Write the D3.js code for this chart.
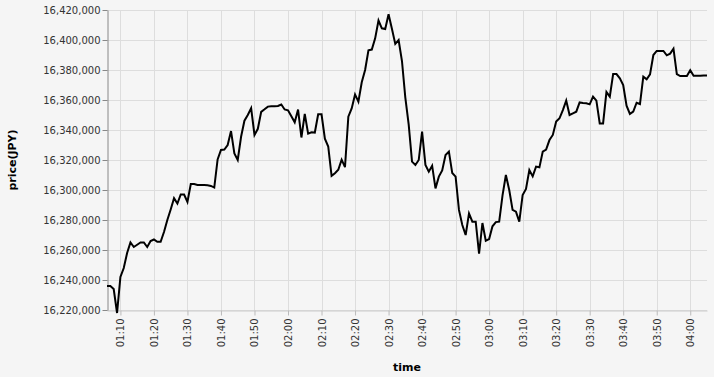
<!DOCTYPE html>
<html>
<head>
<meta charset="utf-8">
<script src="https://cdn.jsdelivr.net/npm/d3@7"></script>
<style>
  html, body { margin: 0; padding: 0; background: #f5f5f5; }
  svg { display: block; }
  text { font-family: "DejaVu Sans", sans-serif; }
</style>
</head>
<body>
<script>
// ---- data ----
const times = [
  "01:06","01:07","01:08","01:09","01:10","01:11","01:12","01:13","01:14","01:15","01:16","01:17","01:18","01:19",
  "01:20","01:21","01:22","01:23","01:24","01:25","01:26","01:27","01:28","01:29",
  "01:30","01:31","01:32","01:33","01:34","01:35","01:36","01:37","01:38","01:39",
  "01:40","01:41","01:42","01:43","01:44","01:45","01:46","01:47","01:48","01:49",
  "01:50","01:51","01:52","01:53","01:54","01:55","01:56","01:57","01:58","01:59",
  "02:00","02:01","02:02","02:03","02:04","02:05","02:06","02:07","02:08","02:09",
  "02:10","02:11","02:12","02:13","02:14","02:15","02:16","02:17","02:18","02:19",
  "02:20","02:21","02:22","02:23","02:24","02:25","02:26","02:27","02:28","02:29",
  "02:30","02:31","02:32","02:33","02:34","02:35","02:36","02:37","02:38","02:39",
  "02:40","02:41","02:42","02:43","02:44","02:45","02:46","02:47","02:48","02:49",
  "02:50","02:51","02:52","02:53","02:54","02:55","02:56","02:57","02:58","02:59",
  "03:00","03:01","03:02","03:03","03:04","03:05","03:06","03:07","03:08","03:09",
  "03:10","03:11","03:12","03:13","03:14","03:15","03:16","03:17","03:18","03:19",
  "03:20","03:21","03:22","03:23","03:24","03:25","03:26","03:27","03:28","03:29",
  "03:30","03:31","03:32","03:33","03:34","03:35","03:36","03:37","03:38","03:39",
  "03:40","03:41","03:42","03:43","03:44","03:45","03:46","03:47","03:48","03:49",
  "03:50","03:51","03:52","03:53","03:54","03:55","03:56","03:57","03:58","03:59",
  "04:00","04:01","04:02","04:03","04:04","04:05"
];
const prices = [
  16236000,16236000,16234000,16218000,16242000,16248000,16258000,16265000,16262000,16263500,16265000,16265000,16262000,16266000,
  16267000,16265500,16265500,16272000,16280000,16287000,16294500,16291000,16297000,16297000,
  16292000,16304000,16304000,16303300,16303300,16303300,16303100,16302700,16301600,16320400,
  16326700,16327000,16330000,16339300,16324400,16320000,16335500,16346200,16350000,16354500,
  16336700,16340800,16352100,16353800,16355600,16355800,16355800,16356000,16357000,16353700,
  16353100,16349100,16345100,16353600,16335000,16350700,16337600,16338500,16338300,16350500,
  16350500,16334200,16329000,16309400,16311200,16313500,16320200,16315200,16348900,16354400,
  16363700,16358900,16371800,16380000,16393100,16393600,16401100,16413000,16407800,16407300,
  16417200,16407500,16397400,16400000,16386000,16361600,16343800,16318900,16316700,16320000,
  16338900,16316700,16312200,16316200,16301100,16308900,16313100,16323300,16325600,16311300,
  16308900,16286700,16276700,16270000,16284400,16278900,16278900,16257500,16278000,16266200,
  16267300,16275800,16278600,16278900,16296400,16310000,16300000,16286700,16285600,16278900,
  16296700,16300700,16313300,16309100,16315600,16315100,16325600,16326900,16333300,16336700,
  16345600,16347800,16353300,16359600,16350000,16351100,16352200,16358400,16358000,16357800,
  16357100,16362200,16359600,16344400,16344400,16365300,16362200,16377300,16377300,16374400,
  16370000,16356200,16350700,16352200,16358200,16357300,16375600,16373800,16377100,16390000,
  16392700,16392700,16392700,16389800,16390900,16394200,16377300,16376000,16376000,16376000,
  16379800,16376200,16376200,16376200,16376400,16376400
];
const yTicks = [16220000,16240000,16260000,16280000,16300000,16320000,16340000,16360000,16380000,16400000,16420000];
const xTickLabels = ["01:10","01:20","01:30","01:40","01:50","02:00","02:10","02:20","02:30","02:40","02:50",
                     "03:00","03:10","03:20","03:30","03:40","03:50","04:00"];
const yTitle = "price(JPY)";
const xTitle = "time";

// ---- chart ----
(function () {
const W = 714, H = 377;
const mL = 107, mR = 707, mT = 10, mB = 310;
const parse = d3.utcParse("%H:%M");
const data = times.map((t, i) => ({ t: parse(t), v: prices[i] }));

const x = d3.scaleUtc().domain([parse(times[0]), parse(times[times.length - 1])]).range([mL, mR]);
const y = d3.scaleLinear().domain([yTicks[0], yTicks[yTicks.length - 1]]).range([mB, mT]);

const svg = d3.select("body").append("svg").attr("width", W).attr("height", H);
svg.append("rect").attr("width", W).attr("height", H).attr("fill", "#f5f5f5");

const xTickDates = xTickLabels.map(parse);

// grid
const grid = svg.append("g");
grid.selectAll("line.h").data(yTicks).join("line")
  .attr("x1", mL).attr("x2", mR)
  .attr("y1", d => Math.round(y(d)) + 0.5).attr("y2", d => Math.round(y(d)) + 0.5)
  .attr("stroke", "#dddddd").attr("stroke-width", 1);
grid.selectAll("line.v").data(xTickDates).join("line")
  .attr("x1", d => Math.round(x(d)) + 0.5).attr("x2", d => Math.round(x(d)) + 0.5)
  .attr("y1", mT).attr("y2", mB)
  .attr("stroke", "#dddddd").attr("stroke-width", 1);

// x axis
const xAxis = svg.append("g").attr("transform", `translate(0,${mB + 0.5})`)
  .call(d3.axisBottom(x).tickValues(xTickDates).tickFormat(d3.utcFormat("%H:%M")).tickSize(5).tickSizeOuter(0));
xAxis.select(".domain").attr("stroke", "#cccccc");
xAxis.selectAll(".tick line").attr("stroke", "#bbbbbb");
xAxis.selectAll(".tick text")
  .attr("font-size", 10).attr("fill", "#333")
  .attr("transform", "rotate(-90)")
  .attr("text-anchor", "end")
  .attr("x", -8).attr("y", 0).attr("dy", "0.35em");

// y axis
const yAxis = svg.append("g").attr("transform", `translate(${mL + 0.5},0)`)
  .call(d3.axisLeft(y).tickValues(yTicks).tickFormat(d3.format(",")).tickSize(5).tickSizeOuter(0).tickPadding(2));
yAxis.select(".domain").attr("stroke", "#888888");
yAxis.selectAll(".tick line").attr("stroke", "#888888");
yAxis.selectAll(".tick text").attr("font-size", 10).attr("fill", "#333");

// line
const line = d3.line().x(d => x(d.t)).y(d => y(d.v));
svg.append("path").datum(data)
  .attr("d", line).attr("fill", "none").attr("stroke", "#000").attr("stroke-width", 2)
  .attr("stroke-linejoin", "miter");

// titles
svg.append("text").text(yTitle)
  .attr("transform", `translate(16,${(mT + mB) / 2}) rotate(-90)`)
  .attr("text-anchor", "middle").attr("font-size", 11).attr("font-weight", "bold").attr("fill", "#000");
svg.append("text").text(xTitle)
  .attr("x", (mL + mR) / 2).attr("y", 371)
  .attr("text-anchor", "middle").attr("font-size", 11).attr("font-weight", "bold").attr("fill", "#000");
})();
</script>
</body>
</html>
